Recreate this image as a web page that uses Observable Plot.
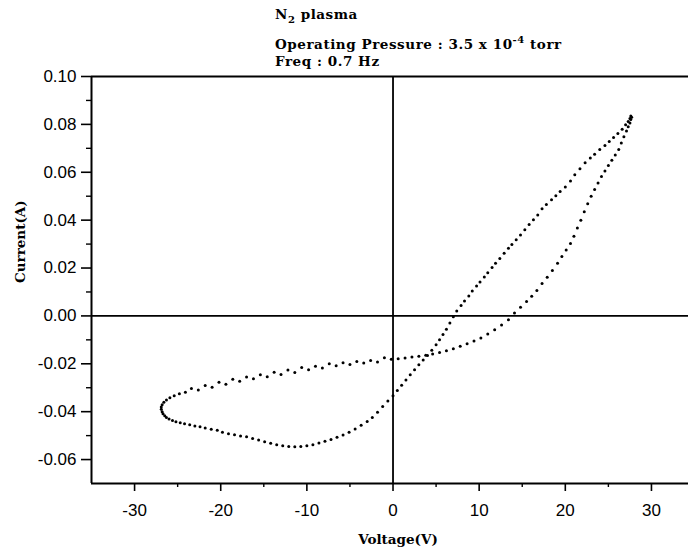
<!DOCTYPE html>
<html><head><meta charset="utf-8">
<script src="https://cdn.jsdelivr.net/npm/d3@7"></script>
<script src="https://cdn.jsdelivr.net/npm/@observablehq/plot@0.6"></script>
<style>
body{margin:0;background:#fff;}
#wrap{position:relative;width:688px;height:555px;}
.t{position:absolute;left:275px;font-family:"DejaVu Serif",serif;font-weight:bold;font-size:13.5px;letter-spacing:0.55px;line-height:1;white-space:nowrap;color:#000}
.t sub,.t sup{font-size:10px;}
</style></head><body>
<div id="wrap">
<div class="t" style="top:8px">N<sub>2</sub> plasma</div>
<div class="t" style="top:35px">Operating Pressure : 3.5 x 10<sup>-4</sup> torr</div>
<div class="t" style="top:55px">Freq : 0.7 Hz</div>
</div>
<script>
// Branch 1: lower part of left lobe (tip -> bottom -> rising through V=0)
const lowerLeftV = [-26.9,-26.9,-26.8,-26.7,-26.5,-26.3,-26.0,-25.6,-25.2,-24.7,-24.2,-23.6,-23.0,-22.4,-21.8,-21.1,-20.4,-19.8,-19.1,-18.4,-17.7,-17.0,-16.3,-15.6,-14.9,-14.2,-13.5,-12.8,-12.1,-11.4,-10.7,-10.0,-9.3,-8.6,-7.9,-7.2,-6.5,-5.8,-5.1,-4.4,-3.7,-3.0,-2.4,-1.8,-1.2,-0.6,0.0,0.5,1.0,1.5,2.0,2.5,3.0,3.5];
const lowerLeftI = [-0.0380,-0.0390,-0.0400,-0.0409,-0.0417,-0.0424,-0.0431,-0.0437,-0.0442,-0.0446,-0.0450,-0.0455,-0.0460,-0.0463,-0.0468,-0.0473,-0.0478,-0.0486,-0.0492,-0.0496,-0.0502,-0.0505,-0.0512,-0.0518,-0.0526,-0.0532,-0.0538,-0.0542,-0.0545,-0.0547,-0.0545,-0.0542,-0.0538,-0.0531,-0.0524,-0.0516,-0.0507,-0.0497,-0.0486,-0.0472,-0.0457,-0.0441,-0.0424,-0.0402,-0.0378,-0.0355,-0.0333,-0.0312,-0.0290,-0.0268,-0.0246,-0.0225,-0.0204,-0.0184];
// Branch 2: steep rising branch up to the top-right tip
const risingV = [4.0,4.5,5.0,5.4,5.8,6.2,6.6,7.0,7.4,7.9,8.3,8.8,9.2,9.7,10.1,10.6,11.0,11.5,11.9,12.4,12.9,13.4,13.8,14.3,14.8,15.3,15.8,16.3,16.8,17.3,17.8,18.4,18.9,19.4,20.0,20.6,21.1,21.7,22.3,22.9,23.4,24.0,24.6,25.1,25.6,26.1,26.6,27.0,27.3,27.5,27.6];
const risingI = [-0.0165,-0.0143,-0.0120,-0.0100,-0.0078,-0.0056,-0.0030,-0.0004,0.0020,0.0043,0.0062,0.0083,0.0104,0.0125,0.0142,0.0163,0.0180,0.0202,0.0220,0.0240,0.0262,0.0283,0.0298,0.0318,0.0338,0.0360,0.0382,0.0402,0.0422,0.0448,0.0465,0.0485,0.0502,0.0520,0.0538,0.0563,0.0590,0.0615,0.0640,0.0660,0.0675,0.0695,0.0712,0.0728,0.0745,0.0762,0.0780,0.0798,0.0812,0.0825,0.0835];
// Branch 3: falling branch from the top-right tip back to V=0
const fallingV = [27.7,27.6,27.5,27.3,27.1,26.8,26.5,26.2,25.8,25.4,25.0,24.6,24.2,23.8,23.4,23.0,22.6,22.2,21.8,21.4,21.0,20.6,20.1,19.6,19.1,18.5,17.9,17.3,16.7,16.1,15.5,14.8,14.1,13.4,12.6,11.8,11.0,10.2,9.4,8.6,7.8,7.0,6.2,5.4,4.6,3.8,3.0,2.2,1.4,0.6];
const fallingI = [0.0830,0.0820,0.0806,0.0790,0.0772,0.0748,0.0722,0.0695,0.0672,0.0650,0.0628,0.0605,0.0582,0.0555,0.0528,0.0500,0.0468,0.0435,0.0400,0.0367,0.0333,0.0302,0.0275,0.0248,0.0220,0.0190,0.0162,0.0135,0.0106,0.0082,0.0060,0.0036,0.0012,-0.0016,-0.0038,-0.0058,-0.0076,-0.0092,-0.0105,-0.0116,-0.0127,-0.0137,-0.0146,-0.0153,-0.0159,-0.0164,-0.0168,-0.0172,-0.0176,-0.0179];
// Branch 4: upper part of left lobe (V=0 -> left tip)
const upperLeftV = [-0.2,-1.0,-1.8,-2.6,-3.4,-4.2,-5.0,-5.8,-6.6,-7.4,-8.2,-9.0,-9.8,-10.6,-11.4,-12.2,-13.0,-13.8,-14.6,-15.4,-16.2,-17.0,-17.8,-18.6,-19.4,-20.2,-21.0,-21.8,-22.6,-23.4,-24.1,-24.8,-25.4,-25.9,-26.3,-26.6,-26.8];
const upperLeftI = [-0.0181,-0.0175,-0.0192,-0.0186,-0.0197,-0.0190,-0.0203,-0.0196,-0.0208,-0.0200,-0.0218,-0.0210,-0.0225,-0.0215,-0.0236,-0.0226,-0.0245,-0.0235,-0.0254,-0.0246,-0.0262,-0.0255,-0.0273,-0.0265,-0.0285,-0.0277,-0.0298,-0.0291,-0.0309,-0.0303,-0.0319,-0.0325,-0.0333,-0.0342,-0.0351,-0.0361,-0.0371];

const xMajor = [-30,-20,-10,0,10,20,30];
const xMinor = [-25,-15,-5,5,15,25];
const yMajor = [-0.06,-0.04,-0.02,0.00,0.02,0.04,0.06,0.08,0.10];
const yMinor = [-0.05,-0.03,-0.01,0.01,0.03,0.05,0.07,0.09];

const data = [];
function add(V, I) { V.forEach((v, k) => data.push({v, i: I[k]})); }
add(lowerLeftV, lowerLeftI);
add(risingV, risingI);
add(fallingV, fallingI);
add(upperLeftV, upperLeftI);

const serif = "DejaVu Serif, serif";
const chart = Plot.plot({
  width: 688, height: 555,
  marginTop: 76, marginBottom: 72, marginLeft: 91, marginRight: 0,
  x: {domain: [-35, 34.3]},
  y: {domain: [-0.07, 0.10]},
  style: {fontFamily: "Liberation Sans, Arial, sans-serif", fontSize: "17px", background: "transparent", color: "black"},
  marks: [
    Plot.axisX({ticks: xMajor, tickSize: 8, tickPadding: 12, tickFormat: d => String(d), label: null, strokeWidth: 1.6, fontSize: 17}),
    Plot.axisX({ticks: xMinor, tickSize: 4, tickFormat: () => "", label: null, strokeWidth: 1.4}),
    Plot.axisY({ticks: yMajor, tickSize: 10, tickPadding: 5, tickFormat: d => d.toFixed(2), label: null, strokeWidth: 1.6, fontSize: 17}),
    Plot.axisY({ticks: yMinor, tickSize: 5, tickFormat: () => "", label: null, strokeWidth: 1.4}),
    Plot.ruleX([-35], {stroke: "black", strokeWidth: 2}),
    Plot.ruleY([0.10, -0.07], {stroke: "black", strokeWidth: 2}),
    Plot.ruleX([0], {stroke: "black", strokeWidth: 1.8}),
    Plot.ruleY([0], {stroke: "black", strokeWidth: 1.8}),
    Plot.dot(data, {x: "v", y: "i", r: 1.5, fill: "black", stroke: null}),
    Plot.text(["Current(A)"], {frameAnchor: "left", dx: -71, dy: 3, rotate: -90, fontFamily: serif, fontWeight: "bold", fontSize: 13.5}),
    Plot.text(["Voltage(V)"], {frameAnchor: "bottom", dx: 8, dy: 60, fontFamily: serif, fontWeight: "bold", fontSize: 13.5})
  ]
});
chart.style.position = "absolute";
chart.style.left = "0";
chart.style.top = "0";
document.getElementById("wrap").prepend(chart);
</script>
</body></html>
